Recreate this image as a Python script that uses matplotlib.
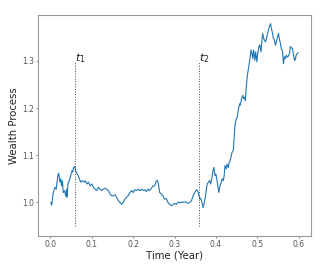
import matplotlib
matplotlib.use("Agg")
import matplotlib.pyplot as plt

# valeurs
temps = [0.001, 0.003, 0.007, 0.011, 0.014, 0.018, 0.020, 0.023, 0.025, 0.027,
         0.029, 0.031, 0.034, 0.037, 0.039, 0.040, 0.043, 0.046, 0.049, 0.052,
         0.054, 0.056, 0.059, 0.061, 0.065, 0.069, 0.073, 0.077, 0.081, 0.084,
         0.088, 0.092, 0.096, 0.100, 0.104, 0.108, 0.112, 0.116, 0.120, 0.124,
         0.128, 0.132, 0.136, 0.140, 0.144, 0.148, 0.152, 0.156, 0.160, 0.164,
         0.168, 0.172, 0.176, 0.180, 0.184, 0.188, 0.192, 0.196, 0.200, 0.204,
         0.208, 0.212, 0.216, 0.220, 0.224, 0.228, 0.232, 0.236, 0.240, 0.244,
         0.248, 0.252, 0.256, 0.259, 0.261, 0.264, 0.268, 0.272, 0.276, 0.280,
         0.284, 0.288, 0.293, 0.297, 0.301, 0.305, 0.309, 0.313, 0.317, 0.321,
         0.325, 0.329, 0.333, 0.337, 0.341, 0.345, 0.349, 0.353, 0.357, 0.359,
         0.361, 0.363, 0.365, 0.369, 0.371, 0.375, 0.377, 0.379, 0.382, 0.385,
         0.387, 0.390, 0.393, 0.395, 0.398, 0.400, 0.402, 0.404, 0.407, 0.410,
         0.413, 0.415, 0.418, 0.420, 0.422, 0.425, 0.427, 0.430, 0.432, 0.434,
         0.437, 0.439, 0.442, 0.444, 0.446, 0.449, 0.451, 0.454, 0.457, 0.459,
         0.462, 0.465, 0.467, 0.470, 0.471, 0.473, 0.476, 0.480, 0.483, 0.485,
         0.487, 0.489, 0.491, 0.494, 0.496, 0.499, 0.501, 0.504, 0.506, 0.509,
         0.511, 0.513, 0.516, 0.520, 0.523, 0.526, 0.529, 0.532, 0.534, 0.537,
         0.539, 0.541, 0.544, 0.546, 0.549, 0.551, 0.554, 0.556, 0.558, 0.561,
         0.563, 0.566, 0.568, 0.570, 0.573, 0.575, 0.578, 0.580, 0.582, 0.585,
         0.587, 0.590, 0.592, 0.594, 0.597, 0.599]
richesse = [1.000, 0.994, 1.021, 1.032, 1.028, 1.057, 1.062, 1.043, 1.050, 1.035,
            1.046, 1.021, 1.025, 1.014, 1.028, 1.011, 1.043, 1.046, 1.057, 1.067,
            1.064, 1.074, 1.076, 1.067, 1.060, 1.053, 1.043, 1.046, 1.043, 1.046,
            1.039, 1.043, 1.035, 1.039, 1.032, 1.028, 1.025, 1.032, 1.028, 1.025,
            1.028, 1.030, 1.028, 1.025, 1.018, 1.014, 1.014, 1.016, 1.011, 1.004,
            1.000, 0.996, 1.000, 1.007, 1.011, 1.014, 1.021, 1.025, 1.021, 1.027,
            1.025, 1.028, 1.025, 1.028, 1.025, 1.027, 1.023, 1.028, 1.025, 1.030,
            1.035, 1.035, 1.046, 1.046, 1.039, 1.021, 1.018, 1.014, 1.007, 1.008,
            1.000, 0.996, 0.993, 0.996, 0.998, 0.996, 1.001, 0.999, 1.001, 1.000,
            1.001, 1.000, 0.998, 1.000, 1.004, 1.014, 1.021, 1.027, 1.023, 1.014,
            1.007, 1.009, 1.004, 0.989, 0.996, 1.014, 1.028, 1.039, 1.043, 1.046,
            1.039, 1.050, 1.067, 1.074, 1.057, 1.060, 1.050, 1.039, 1.021, 1.035,
            1.043, 1.050, 1.046, 1.057, 1.078, 1.071, 1.081, 1.074, 1.085, 1.087,
            1.099, 1.106, 1.110, 1.135, 1.163, 1.177, 1.178, 1.195, 1.209, 1.206,
            1.220, 1.227, 1.220, 1.223, 1.216, 1.241, 1.269, 1.291, 1.309, 1.323,
            1.316, 1.305, 1.323, 1.301, 1.319, 1.298, 1.316, 1.330, 1.334, 1.319,
            1.340, 1.358, 1.346, 1.340, 1.350, 1.362, 1.372, 1.379, 1.369, 1.358,
            1.347, 1.345, 1.333, 1.340, 1.351, 1.358, 1.344, 1.337, 1.326, 1.321,
            1.294, 1.309, 1.305, 1.312, 1.308, 1.310, 1.316, 1.330, 1.328, 1.326,
            1.316, 1.301, 1.303, 1.312, 1.316, 1.317]

instants = [0.06, 0.36]
etiquettes = ["$t_1$", "$t_2$"]
y_bas, y_haut = 0.95, 1.3

fig = plt.figure(figsize=(3.29, 2.69), dpi=100)
ax = fig.add_axes([0.1155, 0.123, 0.83, 0.821])

ax.plot(temps, richesse, color="#1f77b4", linewidth=0.8)

# lignes verticales pointillées et étiquettes t1, t2
for t, lab in zip(instants, etiquettes):
    ax.vlines(t, y_bas, y_haut, colors="#444444", linestyles=":", linewidth=0.7)
    ax.text(t, y_haut, lab, fontsize=8, ha="left", va="baseline", color="#222222")

ax.set_xlim(-0.03, 0.63)
ax.set_ylim(0.929, 1.397)
ax.set_xticks([0.0, 0.1, 0.2, 0.3, 0.4, 0.5, 0.6])
ax.set_yticks([1.0, 1.1, 1.2, 1.3])
ax.tick_params(labelsize=5.5, colors="#555555", length=1.5, width=0.5, pad=1.5)
for s in ax.spines.values():
    s.set_color("#999999")
    s.set_linewidth(0.8)

ax.set_xlabel("Time (Year)", fontsize=7.3, labelpad=1, color="#222222")
ax.set_ylabel("Wealth Process", fontsize=7.3, labelpad=2, color="#222222")

fig.savefig("out.png", dpi=100)
